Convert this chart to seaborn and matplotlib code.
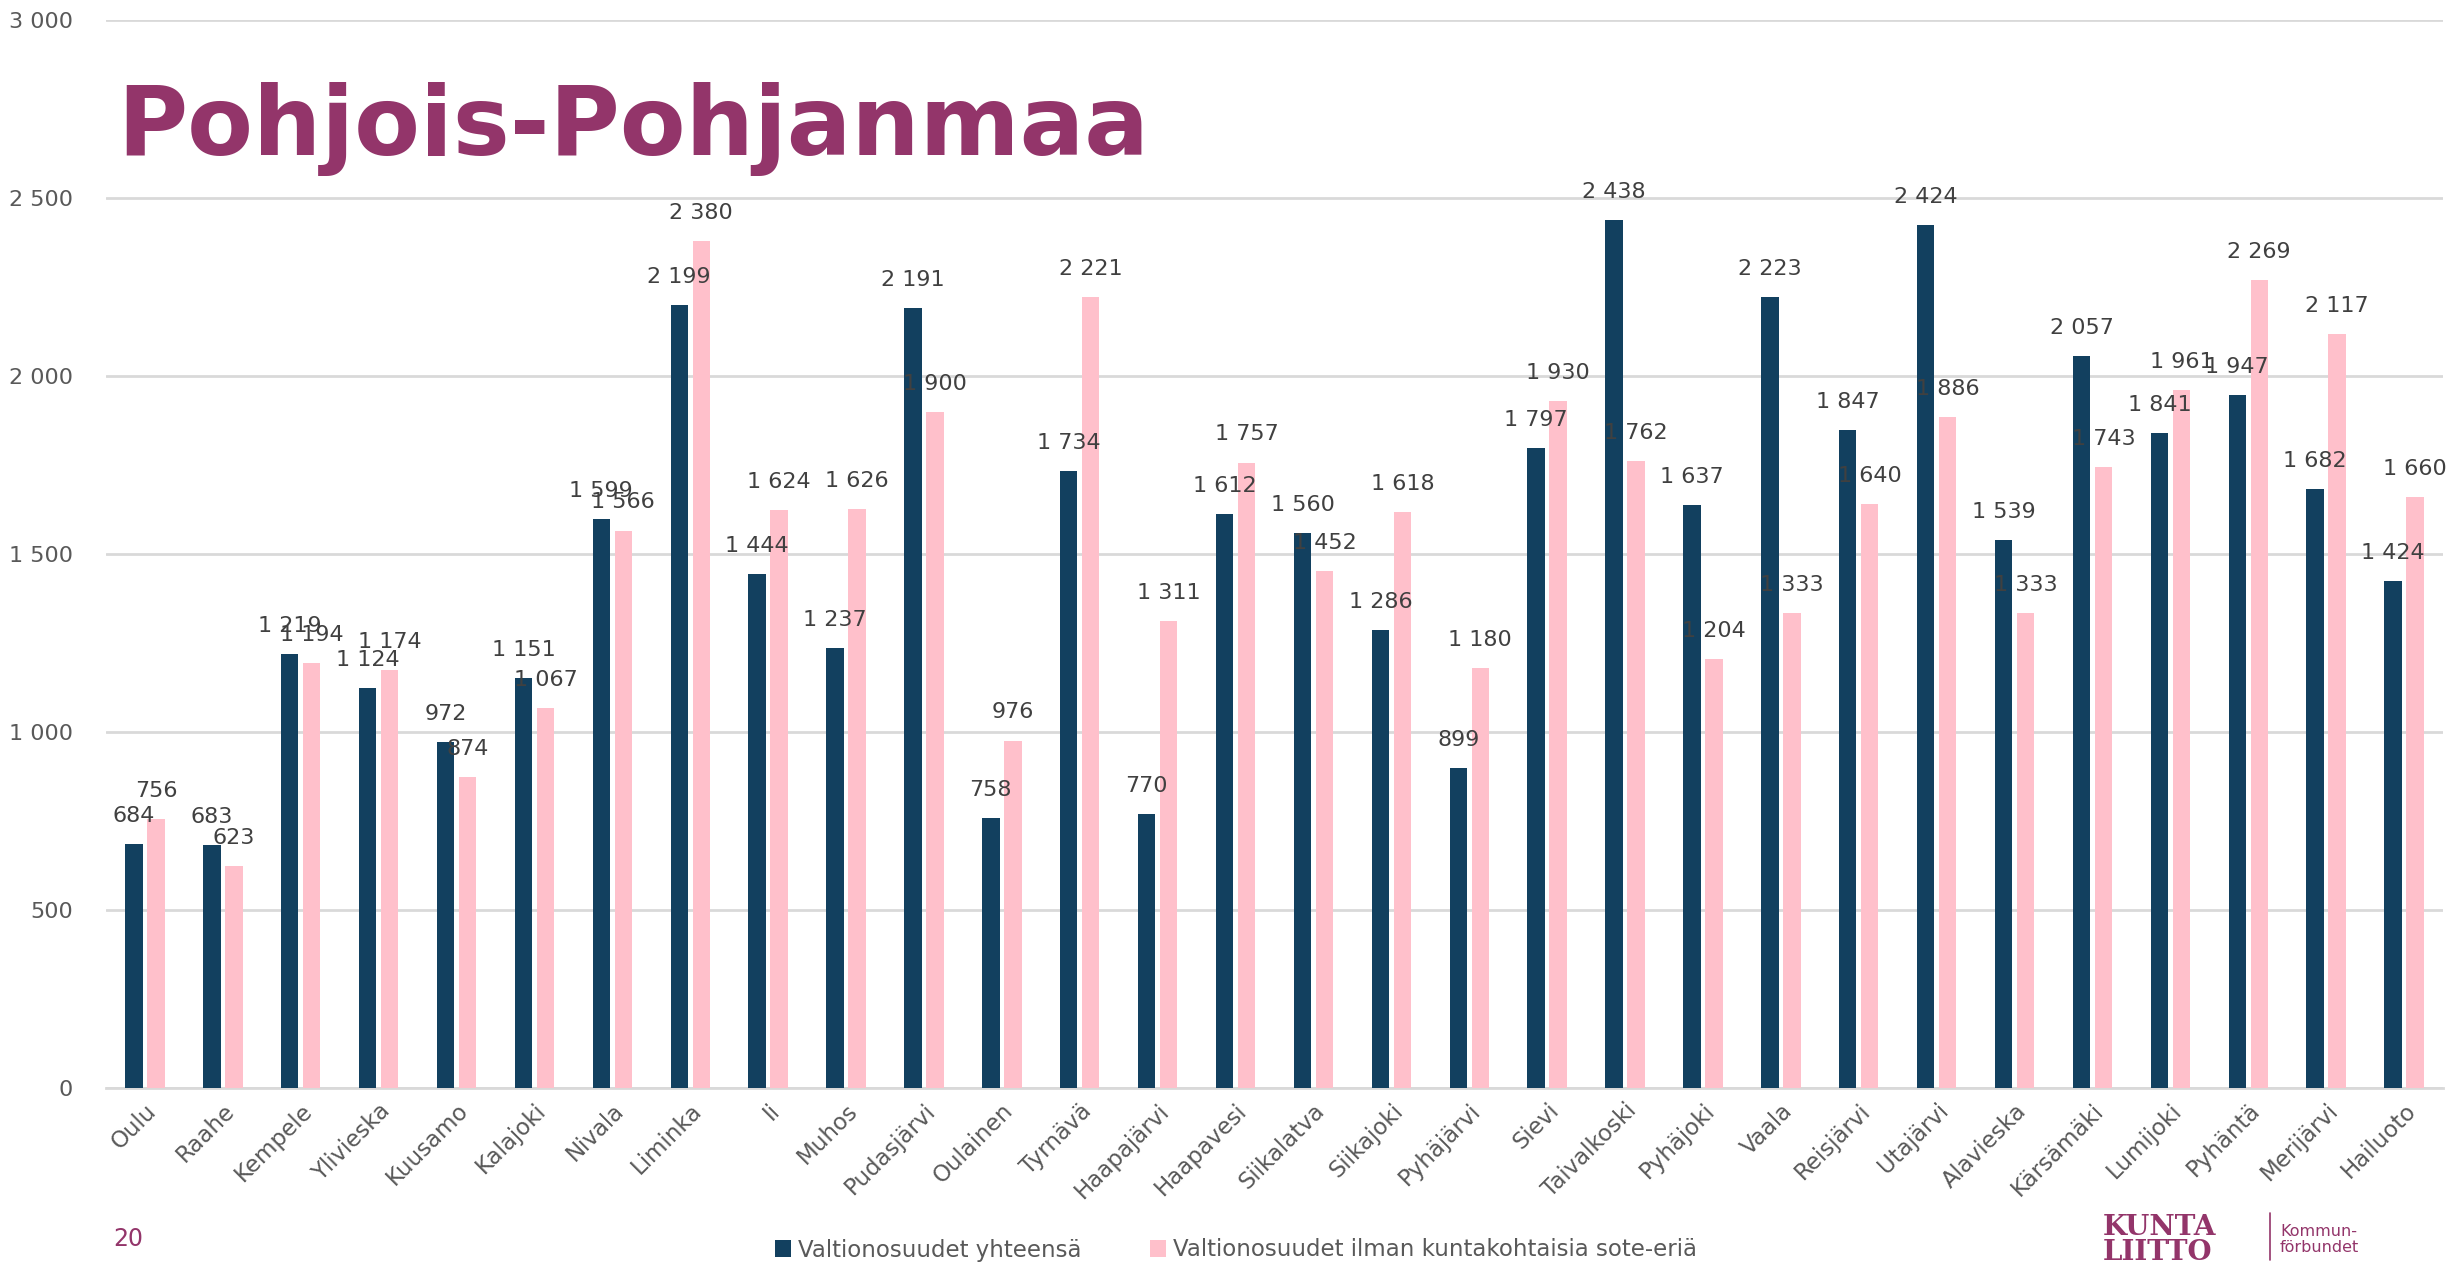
import matplotlib
matplotlib.use("Agg")
import matplotlib.pyplot as plt
import seaborn as sns
import pandas as pd
from matplotlib.lines import Line2D

kunnat = ["Oulu", "Raahe", "Kempele", "Ylivieska", "Kuusamo", "Kalajoki", "Nivala",
          "Liminka", "Ii", "Muhos", "Pudasjärvi", "Oulainen", "Tyrnävä", "Haapajärvi",
          "Haapavesi", "Siikalatva", "Siikajoki", "Pyhäjärvi", "Sievi", "Taivalkoski",
          "Pyhäjoki", "Vaala", "Reisjärvi", "Utajärvi", "Alavieska", "Kärsämäki",
          "Lumijoki", "Pyhäntä", "Merijärvi", "Hailuoto"]
yhteensa = [684, 683, 1219, 1124, 972, 1151, 1599, 2199, 1444, 1237, 2191, 758, 1734, 770,
            1612, 1560, 1286, 899, 1797, 2438, 1637, 2223, 1847, 2424, 1539, 2057, 1841,
            1947, 1682, 1424]
ilman_sote = [756, 623, 1194, 1174, 874, 1067, 1566, 2380, 1624, 1626, 1900, 976, 2221, 1311,
              1757, 1452, 1618, 1180, 1930, 1762, 1204, 1333, 1640, 1886, 1333, 1743, 1961,
              2269, 2117, 1660]
sarjat = ["Valtionosuudet yhteensä", "Valtionosuudet ilman kuntakohtaisia sote-eriä"]
y_ticks = [0, 500, 1000, 1500, 2000, 2500, 3000]
otsikko = "Pohjois-Pohjanmaa"

df = pd.DataFrame({
    "kunta": kunnat * 2,
    "arvo": yhteensa + ilman_sote,
    "sarja": [sarjat[0]] * len(kunnat) + [sarjat[1]] * len(kunnat),
})

def fmt(v):
    return f"{int(round(v)):,}".replace(",", " ")

sns.set_theme(style="white")
plt.rcParams["font.family"] = ["DejaVu Sans"]

W, H = 2448, 1265
fig = plt.figure(figsize=(W / 100, H / 100), dpi=100)
ax = fig.add_axes([106 / W, 1 - 1088 / H, (2443 - 106) / W, (1088 - 20) / H])

dark = "#12405F"
pink = "#FFC0CB"
brand = "#93356A"

sns.barplot(data=df, x="kunta", y="arvo", hue="sarja", palette=[dark, pink],
            saturation=1, width=0.565, gap=0.21, errorbar=None, linewidth=0, ax=ax,
            legend=True, zorder=3)

handles, labels = ax.get_legend_handles_labels()
if ax.get_legend() is not None:
    ax.get_legend().remove()

for cont in ax.containers:
    ax.bar_label(cont, labels=[fmt(b.get_height()) for b in cont], padding=13,
                 fontsize=16, color="#404040", zorder=5)

ax.set_ylim(0, 3000)
ax.set_xlim(-0.5, len(kunnat) - 0.5)
ax.set_yticks(y_ticks)
ax.set_yticklabels([fmt(v) for v in y_ticks], fontsize=16, color="#595959")
ax.yaxis.grid(True, color="#D9D9D9", linewidth=2, zorder=0)
ax.set_axisbelow(True)
ax.tick_params(axis="y", length=0, pad=24)
ax.tick_params(axis="x", length=0, pad=8)
ax.set_xlabel("")
ax.set_ylabel("")
for s in ["top", "right", "left"]:
    ax.spines[s].set_visible(False)
ax.spines["bottom"].set_color("#D9D9D9")
ax.spines["bottom"].set_linewidth(2)

plt.setp(ax.get_xticklabels(), rotation=45, ha="right", rotation_mode="anchor",
         fontsize=16.5, color="#595959")

# title
fig.text(117 / W, 1 - 155 / H, otsikko, fontsize=69, fontweight="heavy",
         color=brand, va="baseline", ha="left")

# legend
fig.legend(handles, labels, loc="center", bbox_to_anchor=(1236 / W, 1 - 1250 / H),
           ncol=2, frameon=False, fontsize=16.5, labelcolor="#595959",
           handlelength=0.7, handleheight=0.8, handletextpad=0.3, columnspacing=3.0)

# page number
fig.text(113 / W, 1 - 1239 / H, "20", fontsize=17, color=brand, va="center", ha="left")

# logo
fig.text(2103 / W, 1 - 1235 / H, "KUNTA", fontsize=20, fontweight="bold",
         family="DejaVu Serif", color=brand, va="baseline", ha="left")
fig.text(2103 / W, 1 - 1260 / H, "LIITTO", fontsize=20, fontweight="bold",
         family="DejaVu Serif", color=brand, va="baseline", ha="left")
fig.add_artist(Line2D([2270 / W, 2270 / W], [1 - 1213 / H, 1 - 1260 / H],
                      transform=fig.transFigure, color=brand, linewidth=1.2))
fig.text(2280 / W, 1 - 1231 / H, "Kommun-", fontsize=11.5, color=brand, va="center", ha="left")
fig.text(2280 / W, 1 - 1248 / H, "förbundet", fontsize=11.5, color=brand, va="center", ha="left")

fig.savefig("out.png", dpi=100)
